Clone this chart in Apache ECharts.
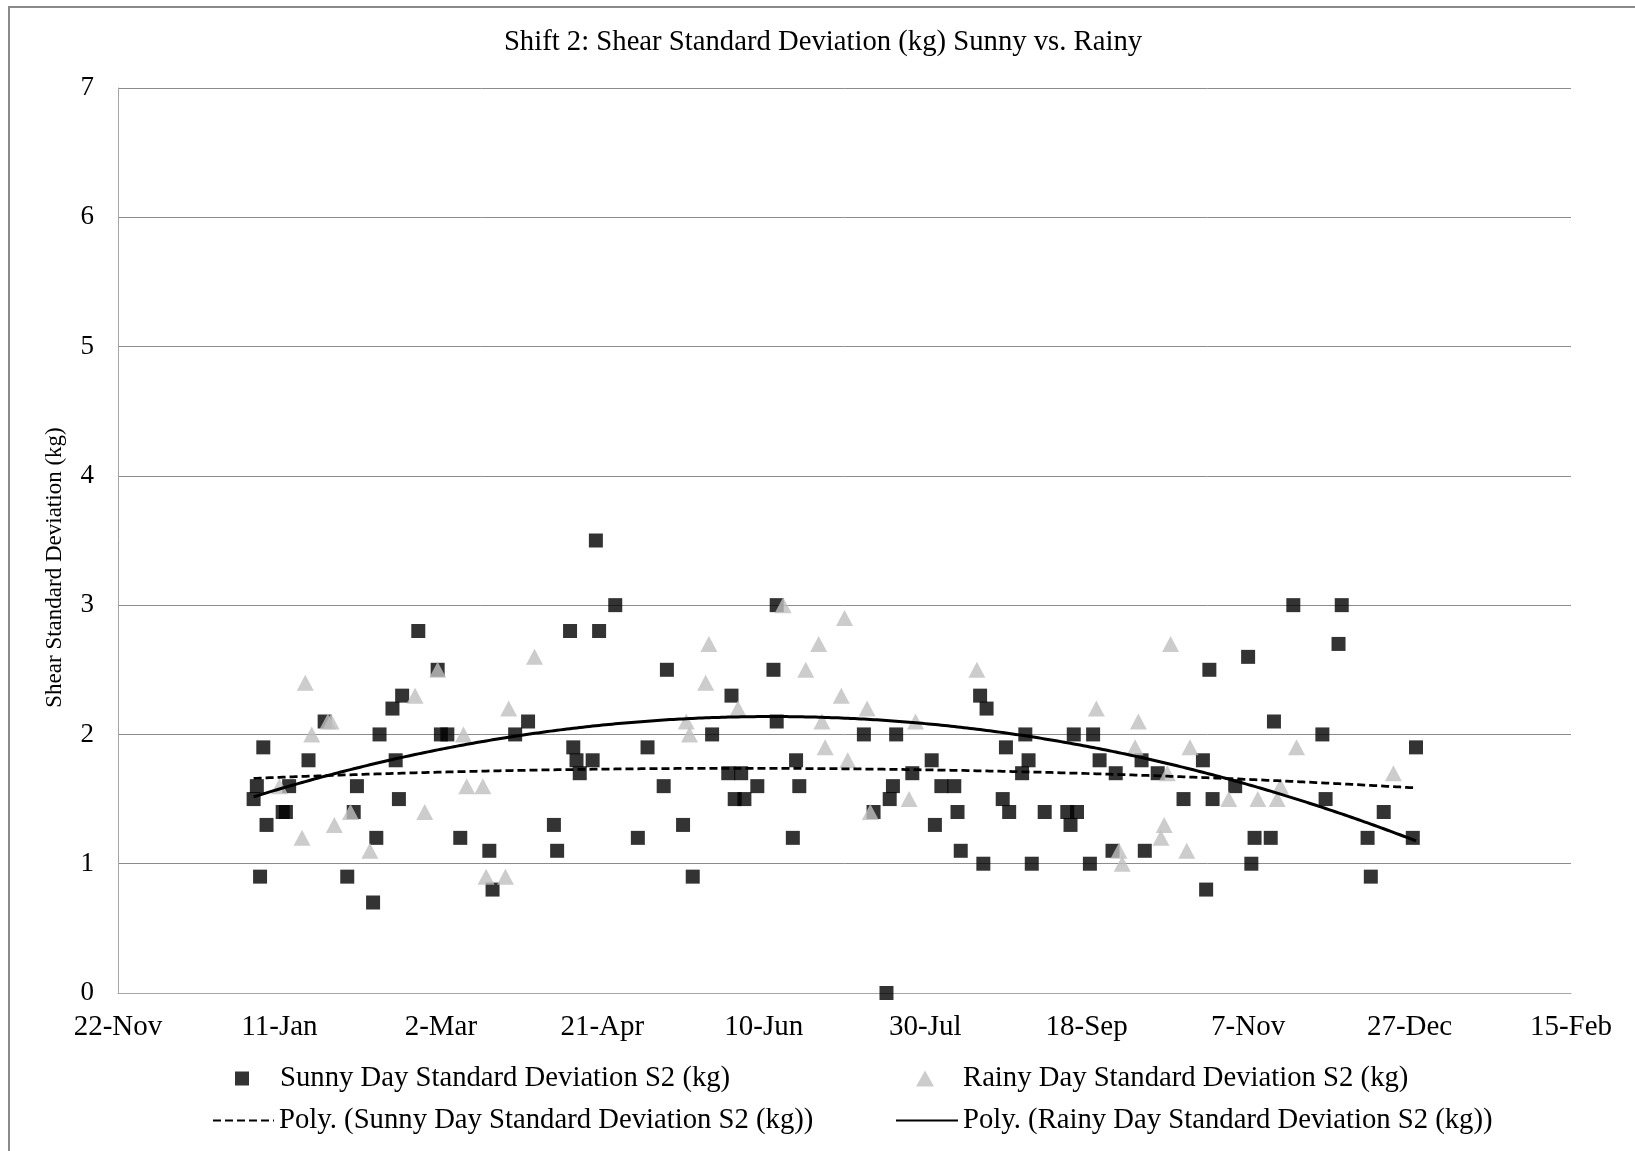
<!DOCTYPE html>
<html>
<head>
<meta charset="utf-8">
<script src="https://cdn.jsdelivr.net/npm/echarts@6/dist/echarts.min.js"></script>
<style>
  html, body { margin: 0; padding: 0; background: #ffffff; }
  #chart { width: 1635px; height: 1151px; }
</style>
</head>
<body>
<div id="chart"></div>
<script>
// ---------------- data ----------------
const chartTitle = 'Shift 2: Shear Standard Deviation (kg) Sunny vs. Rainy';
const yAxisTitle = 'Shear Standard Deviation (kg)';
const sunnyName = 'Sunny Day Standard Deviation S2 (kg)';
const rainyName = 'Rainy Day Standard Deviation S2 (kg)';
const sunnyTrendName = 'Poly. (Sunny Day Standard Deviation S2 (kg))';
const rainyTrendName = 'Poly. (Rainy Day Standard Deviation S2 (kg))';

const xAxisStart = '2012-11-22';   // first tick label: 22-Nov
const xAxisEnd = '2014-02-15';     // last tick label: 15-Feb
const xTickDays = 50;
const monthNames = ['Jan','Feb','Mar','Apr','May','Jun','Jul','Aug','Sep','Oct','Nov','Dec'];
const yMin = 0, yMax = 7, yStep = 1;

const sunnyDates = [
  '2013-01-03','2013-01-04','2013-01-05','2013-01-06','2013-01-07','2013-01-12','2013-01-13','2013-01-14',
  '2013-01-20','2013-01-25','2013-02-01','2013-02-03','2013-02-04','2013-02-09','2013-02-10','2013-02-11',
  '2013-02-15','2013-02-16','2013-02-17','2013-02-18','2013-02-23','2013-03-01','2013-03-02','2013-03-04',
  '2013-03-08','2013-03-17','2013-03-18','2013-03-25','2013-03-29','2013-04-06','2013-04-07','2013-04-11',
  '2013-04-12','2013-04-13','2013-04-14','2013-04-18','2013-04-19','2013-04-20','2013-04-25','2013-05-02',
  '2013-05-05','2013-05-10','2013-05-11','2013-05-16','2013-05-19','2013-05-25','2013-05-30','2013-05-31',
  '2013-06-01','2013-06-03','2013-06-04','2013-06-08','2013-06-13','2013-06-14','2013-06-14','2013-06-19',
  '2013-06-20','2013-06-21','2013-07-11','2013-07-14','2013-07-18','2013-07-19','2013-07-20','2013-07-21',
  '2013-07-26','2013-08-01','2013-08-02','2013-08-04','2013-08-08','2013-08-09','2013-08-10','2013-08-16',
  '2013-08-17','2013-08-18','2013-08-23','2013-08-24','2013-08-25','2013-08-29','2013-08-30','2013-08-31',
  '2013-09-01','2013-09-05','2013-09-12','2013-09-13','2013-09-14','2013-09-15','2013-09-19','2013-09-20',
  '2013-09-22','2013-09-26','2013-09-27','2013-10-05','2013-10-06','2013-10-10','2013-10-18','2013-10-24',
  '2013-10-25','2013-10-26','2013-10-27','2013-11-03','2013-11-07','2013-11-08','2013-11-09','2013-11-14',
  '2013-11-15','2013-11-21','2013-11-30','2013-12-01','2013-12-05','2013-12-06','2013-12-14','2013-12-15',
  '2013-12-19','2013-12-28','2013-12-29'
];
const sunnyValues = [
  1.5,1.6,0.9,1.9,1.3,1.4,1.4,1.6,
  1.8,2.1,0.9,1.4,1.6,0.7,1.2,2.0,
  2.2,1.8,1.5,2.3,2.8,2.5,2.0,2.0,
  1.2,1.1,0.8,2.0,2.1,1.3,1.1,2.8,
  1.9,1.8,1.7,1.8,3.5,2.8,3.0,1.2,
  1.9,1.6,2.5,1.3,0.9,2.0,1.7,2.3,
  1.5,1.7,1.5,1.6,2.5,2.1,3.0,1.2,
  1.8,1.6,2.0,1.4,0.0,1.5,1.6,2.0,
  1.7,1.8,1.3,1.6,1.6,1.4,1.1,2.3,
  1.0,2.2,1.5,1.9,1.4,1.7,2.0,1.8,
  1.0,1.4,1.4,1.3,2.0,1.4,1.0,2.0,
  1.8,1.1,1.7,1.8,1.1,1.7,1.5,1.8,
  0.8,2.5,1.5,1.6,2.6,1.0,1.2,1.2,
  2.1,3.0,2.0,1.5,2.7,3.0,1.2,0.9,
  1.4,1.2,1.9
];

const rainyDates = [
  '2013-01-11','2013-01-18','2013-01-19','2013-01-21','2013-01-26','2013-01-27','2013-01-28','2013-02-02',
  '2013-02-08','2013-02-22','2013-02-25','2013-03-01','2013-03-09','2013-03-10','2013-03-15','2013-03-16',
  '2013-03-22','2013-03-23','2013-03-31','2013-05-17','2013-05-18','2013-05-23','2013-05-24','2013-06-02',
  '2013-06-16','2013-06-23','2013-06-27','2013-06-28','2013-06-29','2013-07-04','2013-07-05','2013-07-06',
  '2013-07-12','2013-07-13','2013-07-25','2013-07-27','2013-08-15','2013-09-21','2013-09-28','2013-09-29',
  '2013-10-03','2013-10-04','2013-10-11','2013-10-12','2013-10-13','2013-10-14','2013-10-19','2013-10-20',
  '2013-11-01','2013-11-10','2013-11-16','2013-11-17','2013-11-22','2013-12-22'
];
const rainyValues = [
  1.6,1.2,2.4,2.0,2.1,2.1,1.3,1.4,
  1.1,2.3,1.4,2.5,2.0,1.6,1.6,0.9,
  0.9,2.2,2.6,2.1,2.0,2.4,2.7,2.2,
  3.0,2.5,2.7,2.1,1.9,2.3,2.9,1.8,
  2.2,1.4,1.5,2.1,2.5,2.2,1.1,1.0,
  1.9,2.1,1.2,1.3,1.7,2.7,1.1,1.9,
  1.5,1.5,1.5,1.6,1.9,1.7
];

// ---------------- helpers ----------------
const DAY = 86400000;
function parseUTC(s) { const p = s.split('-').map(Number); return Date.UTC(p[0], p[1] - 1, p[2]); }
const baseMs = parseUTC(xAxisStart);
const xMaxDays = Math.round((parseUTC(xAxisEnd) - baseMs) / DAY);
function toDays(s) { return Math.round((parseUTC(s) - baseMs) / DAY); }
function dayLabel(v) { const d = new Date(baseMs + v * DAY); return d.getUTCDate() + '-' + monthNames[d.getUTCMonth()]; }

const sunnyPts = sunnyDates.map((d, i) => [toDays(d), sunnyValues[i]]);
const rainyPts = rainyDates.map((d, i) => [toDays(d), rainyValues[i]]);

// order-2 polynomial least-squares trendline (as in the original spreadsheet)
function polyFit2(pts) {
  const S = [0, 0, 0, 0, 0], T = [0, 0, 0];
  pts.forEach(([x0, y]) => {
    const x = x0 / 100;
    let p = 1;
    for (let k = 0; k < 5; k++) { S[k] += p; if (k < 3) T[k] += p * y; p *= x; }
  });
  const A = [[S[0], S[1], S[2], T[0]], [S[1], S[2], S[3], T[1]], [S[2], S[3], S[4], T[2]]];
  for (let i = 0; i < 3; i++) {
    let m = i;
    for (let r = i + 1; r < 3; r++) if (Math.abs(A[r][i]) > Math.abs(A[m][i])) m = r;
    [A[i], A[m]] = [A[m], A[i]];
    for (let r = 0; r < 3; r++) {
      if (r === i) continue;
      const f = A[r][i] / A[i][i];
      for (let c = i; c < 4; c++) A[r][c] -= f * A[i][c];
    }
  }
  const c = [A[0][3] / A[0][0], A[1][3] / A[1][1], A[2][3] / A[2][2]];
  return x0 => { const x = x0 / 100; return c[0] + c[1] * x + c[2] * x * x; };
}
const allX = sunnyPts.concat(rainyPts).map(p => p[0]);
const trendFrom = Math.min(...allX), trendTo = Math.max(...allX);
function trendLine(pts) {
  const f = polyFit2(pts), out = [];
  for (let x = trendFrom; x <= trendTo; x++) out.push([x, f(x)]);
  return out;
}

// ---------------- chart ----------------
const FONT = "'Liberation Serif', 'Times New Roman', serif";
const chart = echarts.init(document.getElementById('chart'), null, { renderer: 'canvas' });

const legendText = { fontFamily: FONT, fontSize: 28.7, color: '#000' };

chart.setOption({
  backgroundColor: '#ffffff',
  animation: false,
  graphic: [{
    type: 'rect', silent: true, z: 0,
    shape: { x: 9, y: 7, width: 1700, height: 1300 },
    style: { fill: 'none', stroke: '#8a8a8a', lineWidth: 2 }
  }],
  title: {
    text: chartTitle,
    left: 823, top: 28, padding: 0, textAlign: 'center',
    textStyle: { fontFamily: FONT, fontSize: 28.7, fontWeight: 'normal', color: '#000' }
  },
  grid: { left: 118, right: 64, top: 88, bottom: 158, containLabel: false },
  xAxis: {
    type: 'value', min: 0, max: xMaxDays, interval: xTickDays,
    axisLine: { show: true, lineStyle: { color: '#a6a6a6', width: 1 } },
    axisTick: { show: false },
    splitLine: { show: false },
    axisLabel: { formatter: dayLabel, margin: 20, fontFamily: FONT, fontSize: 29, color: '#000' }
  },
  yAxis: {
    type: 'value', min: yMin, max: yMax, interval: yStep,
    name: yAxisTitle, nameLocation: 'middle', nameRotate: 90, nameGap: 52,
    nameTextStyle: { fontFamily: FONT, fontSize: 23, color: '#000', padding: [0, 54, 0, 0] },
    axisLine: { show: true, lineStyle: { color: '#a6a6a6', width: 1 } },
    axisTick: { show: false },
    splitLine: { show: true, lineStyle: { color: '#8c8c8c', width: 1 } },
    axisLabel: { margin: 24, fontFamily: FONT, fontSize: 27, color: '#000' }
  },
  legend: [
    { data: [{ name: sunnyName, icon: 'rect' }], left: 235, top: 1064, padding: 0,
      itemWidth: 14, itemHeight: 14, textStyle: Object.assign({ padding: [0, 0, 0, 26] }, legendText) },
    { data: [{ name: rainyName, icon: 'triangle' }], left: 916, top: 1064, padding: 0,
      itemWidth: 18, itemHeight: 16, textStyle: Object.assign({ padding: [0, 0, 0, 24] }, legendText) },
    { data: [{ name: sunnyTrendName }], left: 212, top: 1106, padding: 0,
      itemWidth: 61, itemHeight: 14, itemStyle: { opacity: 0 }, textStyle: legendText },
    { data: [{ name: rainyTrendName }], left: 895, top: 1106, padding: 0,
      itemWidth: 62, itemHeight: 14, itemStyle: { opacity: 0 }, textStyle: legendText }
  ],
  series: [
    { name: sunnyName, type: 'scatter', data: sunnyPts, symbol: 'rect', symbolSize: 14,
      itemStyle: { color: '#000000' }, z: 2 },
    { name: rainyName, type: 'scatter', data: rainyPts, symbol: 'triangle', symbolSize: [17, 16],
      itemStyle: { color: '#bfbfbf' }, z: 3 },
    { name: sunnyTrendName, type: 'line', data: trendLine(sunnyPts), symbol: 'none', smooth: false,
      lineStyle: { color: '#000', width: 2.75, type: [8, 4] }, itemStyle: { color: '#000' }, z: 4 },
    { name: rainyTrendName, type: 'line', data: trendLine(rainyPts), symbol: 'none', smooth: false,
      lineStyle: { color: '#000', width: 3, type: 'solid' }, itemStyle: { color: '#000' }, z: 5 }
  ]
});
</script>
</body>
</html>
